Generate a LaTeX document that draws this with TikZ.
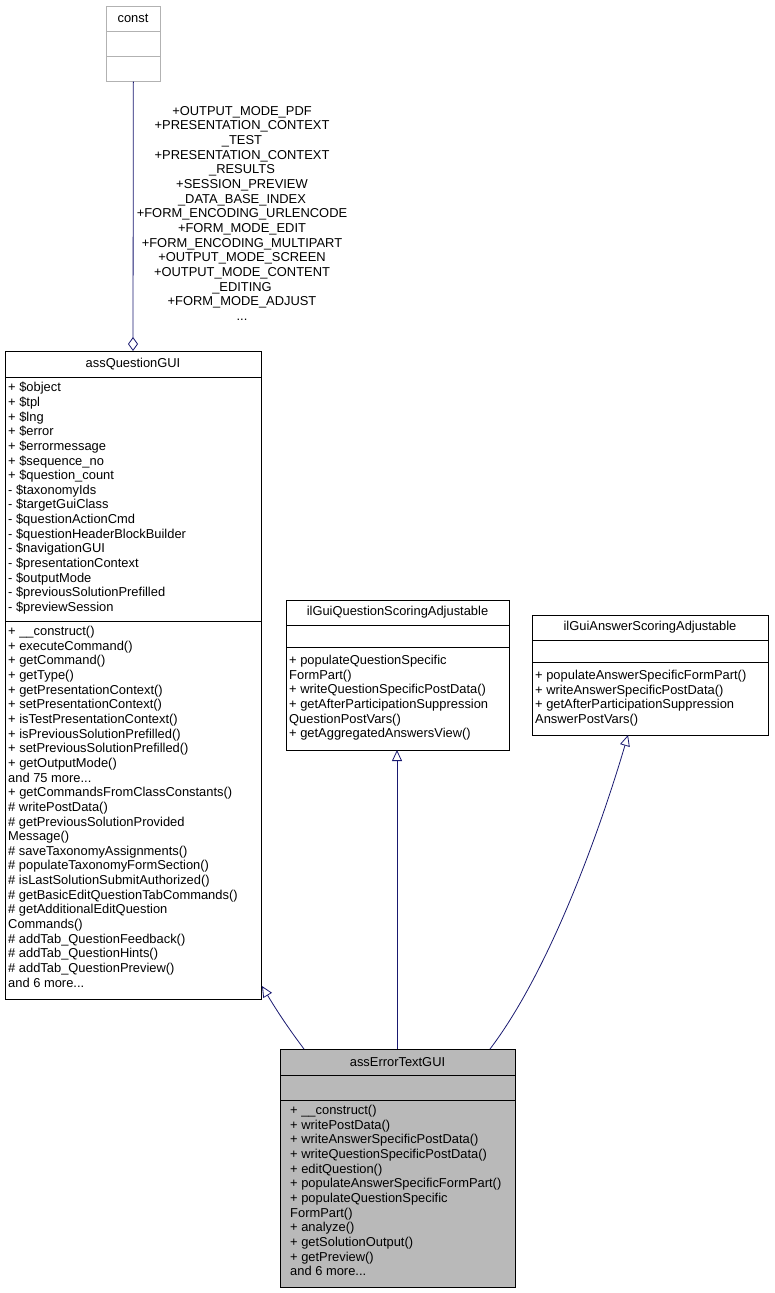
\documentclass[tikz,border=0pt]{standalone}
\usepackage{fontspec}
\setmainfont{Liberation Sans}
\usetikzlibrary{arrows.meta}
\begin{document}
\begin{tikzpicture}[x=1pt,y=-1pt,
  box/.style={draw=black,line width=0.7pt,rectangle,anchor=north west,inner sep=0},
  txt/.style={anchor=north west,align=left,inner sep=0,font=\fontsize{12.9}{14.65}\selectfont},
  ttl/.style={anchor=center,inner sep=0,font=\fontsize{12.9}{14.65}\selectfont},
  edge/.style={draw=midnightblue,line width=0.8pt},
  inh/.style={edge,-{Triangle[open,length=11pt,width=10pt]}}]
\definecolor{midnightblue}{RGB}{25,25,112}
\useasboundingbox (0,0) rectangle (774,1293);
% const
\node[box,draw=gray!60,minimum width=54,minimum height=75] (const) at (106,6) {};
\draw[gray!60] (106,31) -- (160,31) (106,56) -- (160,56);
\node[ttl] (constt) at (133,18.5) {const};
% assQuestionGUI
\node[box,minimum width=256,minimum height=648] (qgui) at (5,351) {};
\draw (5,377) -- (261,377) (5,621) -- (261,621);
\node[ttl] (qguit) at (133,364) {assQuestionGUI};
\node[txt] (qguia) at (8,382) {+ \$object\\+ \$tpl\\+ \$lng\\+ \$error\\+ \$errormessage\\+ \$sequence\_no\\+ \$question\_count\\- \$taxonomyIds\\- \$targetGuiClass\\- \$questionActionCmd\\- \$questionHeaderBlockBuilder\\- \$navigationGUI\\- \$presentationContext\\- \$outputMode\\- \$previousSolutionPrefilled\\- \$previewSession};
\node[txt] (qguim) at (8,626) {+ \_\_construct()\\+ executeCommand()\\+ getCommand()\\+ getType()\\+ getPresentationContext()\\+ setPresentationContext()\\+ isTestPresentationContext()\\+ isPreviousSolutionPrefilled()\\+ setPreviousSolutionPrefilled()\\+ getOutputMode()\\and 75 more...\\+ getCommandsFromClassConstants()\\\# writePostData()\\\# getPreviousSolutionProvided\\Message()\\\# saveTaxonomyAssignments()\\\# populateTaxonomyFormSection()\\\# isLastSolutionSubmitAuthorized()\\\# getBasicEditQuestionTabCommands()\\\# getAdditionalEditQuestion\\Commands()\\\# addTab\_QuestionFeedback()\\\# addTab\_QuestionHints()\\\# addTab\_QuestionPreview()\\and 6 more...};
% ilGuiQuestionScoringAdjustable
\node[box,minimum width=223,minimum height=150] (qsa) at (286,600) {};
\draw (286,625) -- (509,625) (286,647) -- (509,647);
\node[ttl] (qsat) at (397.5,612.5) {ilGuiQuestionScoringAdjustable};
\node[txt] (qsam) at (289,655) {+ populateQuestionSpecific\\FormPart()\\+ writeQuestionSpecificPostData()\\+ getAfterParticipationSuppression\\QuestionPostVars()\\+ getAggregatedAnswersView()};
% ilGuiAnswerScoringAdjustable
\node[box,minimum width=236,minimum height=120] (asa) at (532,615) {};
\draw (532,640) -- (768,640) (532,662) -- (768,662);
\node[ttl] (asat) at (650,627.5) {ilGuiAnswerScoringAdjustable};
\node[txt] (asam) at (535,670) {+ populateAnswerSpecificFormPart()\\+ writeAnswerSpecificPostData()\\+ getAfterParticipationSuppression\\AnswerPostVars()};
% assErrorTextGUI
\node[box,fill=gray!55,minimum width=235,minimum height=238] (etg) at (280,1049) {};
\draw (280,1075) -- (515,1075) (280,1100) -- (515,1100);
\node[ttl] (etgt) at (397.5,1062) {assErrorTextGUI};
\node[txt] (etgm) at (290,1105) {+ \_\_construct()\\+ writePostData()\\+ writeAnswerSpecificPostData()\\+ writeQuestionSpecificPostData()\\+ editQuestion()\\+ populateAnswerSpecificFormPart()\\+ populateQuestionSpecific\\FormPart()\\+ analyze()\\+ getSolutionOutput()\\+ getPreview()\\and 6 more...};
% edges
\coordinate (c1) at (304,1049);
\coordinate (c2) at (397,1049);
\coordinate (c3) at (490,1049);
\draw[inh] (c1) .. controls (292,1033) and (280,1016) .. (262,986);
\draw[inh] (c2) -- (397,750);
\draw[inh] (c3) .. controls (550,970) and (600,830) .. (628,735);
\draw[edge,-{Diamond[open,length=14pt,width=10pt]}] (const.south) -- (133,351);
\node[anchor=north,align=center,inner sep=0,font=\fontsize{12.9}{14.65}\selectfont] (lbl) at (242,106) {+OUTPUT\_MODE\_PDF\\+PRESENTATION\_CONTEXT\\\_TEST\\+PRESENTATION\_CONTEXT\\\_RESULTS\\+SESSION\_PREVIEW\\\_DATA\_BASE\_INDEX\\+FORM\_ENCODING\_URLENCODE\\+FORM\_MODE\_EDIT\\+FORM\_ENCODING\_MULTIPART\\+OUTPUT\_MODE\_SCREEN\\+OUTPUT\_MODE\_CONTENT\\\_EDITING\\+FORM\_MODE\_ADJUST\\...};
\end{tikzpicture}
\end{document}
